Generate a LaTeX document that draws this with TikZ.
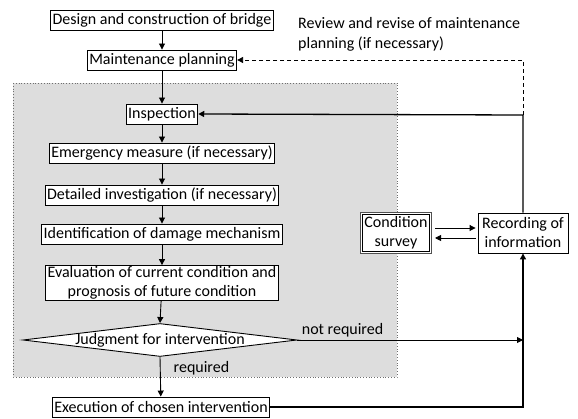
\documentclass[tikz,border=0pt]{standalone}
\usepackage{fontspec}
\setmainfont{Carlito}
\usetikzlibrary{shapes.geometric,arrows.meta,calc}
\begin{document}
\begin{tikzpicture}[x=1pt,y=-1pt,
  font=\fontsize{16}{19}\selectfont,
  box/.style={draw, line width=0.9pt, fill=white, inner xsep=2pt, inner ysep=1pt, minimum height=20pt, align=center},
  arr/.style={line width=0.9pt, -{Triangle[length=6pt,width=6pt]}},
  thk/.style={line width=1.3pt},
  lbl/.style={inner sep=0pt}]
\useasboundingbox (0,0) rectangle (578,419);
\fill[white] (0,0) rectangle (578,419);
% gray area
\draw[fill={rgb,255:red,221;green,221;blue,221}, draw={rgb,255:red,110;green,110;blue,110}, dotted, line width=0.8pt]
  (13,83) rectangle (397,377);

\node[box] (design) at (162,20) {Design and construction of bridge};
\node[box] (plan) at (162,60) {Maintenance planning};
\node[box] (insp) at (162,114) {Inspection};
\node[box] (emerg) at (162,153) {Emergency measure (if necessary)};
\node[box] (detail) at (162,195) {Detailed investigation (if necessary)};
\node[box] (ident) at (162,234) {Identification of damage mechanism};
\node[box] (eval) at (162,283) {Evaluation of current condition and\\prognosis of future condition};
\node[draw, diamond, fill=white, line width=0.9pt, minimum width=274pt, minimum height=33pt, inner sep=0pt] (judge) at (160,340) {};
\node[lbl] (judgetxt) at (160,340) {Judgment for intervention};
\node[box] (exec) at (161,407) {Execution of chosen intervention};
\node[box, line width=1pt, draw={rgb,255:red,80;green,80;blue,80}, minimum width=71pt, minimum height=41pt] (cond) at (396,233) {Condition\\survey};
\draw[line width=0.8pt] ($(cond.north west)+(2.5,2.5)$) rectangle ($(cond.south east)+(-2.5,-2.5)$);
\node[box, minimum width=90pt, minimum height=40pt] (rec) at (523,233) {Recording of\\information};
\node[lbl, align=left, anchor=north west, font=\fontsize{16}{20}\selectfont] (review) at (298,17) {Review and revise of maintenance\\planning (if necessary)};

\coordinate (corner) at (523,115);

\draw[arr] (design) -- (plan);
\draw[arr] (plan) -- (insp);
\draw[arr] (insp) -- (emerg);
\draw[arr] (emerg) -- (detail);
\draw[arr] (detail) -- (ident);
\draw[arr] (ident) -- (eval);
\draw[arr] (eval) -- (judge.north);
\draw[arr] (judge.south) -- node[lbl, pos=0.28, right=13pt] (req) {required} (exec);
\draw[arr] (judge.east) -- node[lbl, pos=0.2, above=2pt] (nreq) {not required} (judge.east -| rec.south);
\draw[arr, thk] (exec.east) -| (rec.south);
\draw[arr, thk] (rec.north) -- (corner) -- (insp.east);
\draw[arr, dashed, dash pattern=on 4pt off 3pt] (corner) |- (plan.east);
\draw[arr] ($(cond.east)+(3,-5)$) -- ($(rec.west)+(-2,-5)$);
\draw[arr] ($(rec.west)+(-2,5)$) -- ($(cond.east)+(3,5)$);
\end{tikzpicture}
\end{document}
